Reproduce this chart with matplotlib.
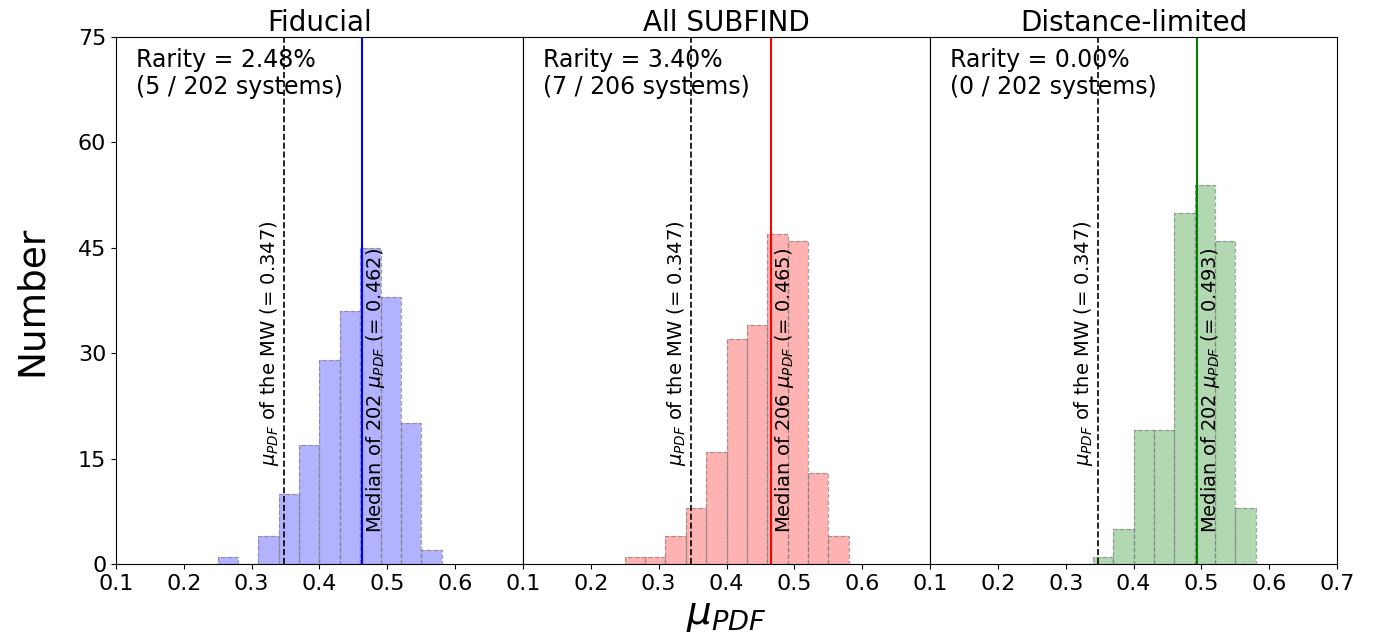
import numpy as np
import matplotlib.pyplot as plt

# histogram bin edges (mu_PDF) and counts per sample
bin_edges = [0.25, 0.28, 0.31, 0.34, 0.37, 0.40, 0.43, 0.46, 0.49, 0.52, 0.55, 0.58]
counts_fiducial = [1, 0, 4, 10, 17, 29, 36, 45, 38, 20, 2]
counts_subfind = [1, 1, 4, 8, 16, 32, 34, 47, 46, 13, 4]
counts_distlim = [0, 0, 0, 1, 5, 19, 19, 50, 54, 46, 8]

titles = ['Fiducial', 'All SUBFIND', 'Distance-limited']
colors = ['blue', 'red', 'green']
medians = [0.462, 0.465, 0.493]
n_systems = [202, 206, 202]
n_rare = [5, 7, 0]
mu_mw = 0.347

fig, axes = plt.subplots(1, 3, figsize=(13.79, 6.38), dpi=100, sharey=True)
fig.subplots_adjust(left=0.0841, right=0.9696, top=0.942, bottom=0.116, wspace=0)

edges = np.array(bin_edges)
widths = np.diff(edges)

for i, ax in enumerate(axes):
    counts = [counts_fiducial, counts_subfind, counts_distlim][i]
    ax.bar(edges[:-1], counts, width=widths, align='edge',
           color=colors[i], alpha=0.3, edgecolor='none')
    ax.bar(edges[:-1], counts, width=widths, align='edge',
           facecolor='none', edgecolor='grey', linestyle='--', linewidth=0.9, alpha=0.7)

    ax.axvline(mu_mw, color='k', ls='--', lw=1.2)
    ax.axvline(medians[i], color=colors[i], lw=1.5)

    ax.text(mu_mw - 0.004, 14, r'$\mu_{PDF}$ of the MW (= %.3f)' % mu_mw,
            rotation=90, ha='right', va='bottom', fontsize=14)
    ax.text(medians[i] + 0.004, 4.4,
            r'Median of %d $\mu_{PDF}$ (= %.3f)' % (n_systems[i], medians[i]),
            rotation=90, ha='left', va='bottom', fontsize=14)

    rarity = 100.0 * n_rare[i] / n_systems[i]
    ax.text(0.05, 0.98, 'Rarity = %.2f%%\n(%d / %d systems)' % (rarity, n_rare[i], n_systems[i]),
            transform=ax.transAxes, ha='left', va='top', fontsize=17)

    ax.set_title(titles[i], fontsize=20, pad=2)
    ax.set_xlim(0.1, 0.7)
    ax.set_ylim(0, 75)
    if i < 2:
        ax.set_xticks([0.1, 0.2, 0.3, 0.4, 0.5, 0.6])
    else:
        ax.set_xticks([0.1, 0.2, 0.3, 0.4, 0.5, 0.6, 0.7])
    ax.tick_params(labelsize=16)
    if i > 0:
        ax.tick_params(left=False)

axes[0].set_yticks([0, 15, 30, 45, 60, 75])
axes[0].set_ylabel('Number', fontsize=27, labelpad=20)
axes[1].set_xlabel(r'$\mu_{PDF}$', fontsize=28, labelpad=2)

fig.savefig('out.png', dpi=100)
